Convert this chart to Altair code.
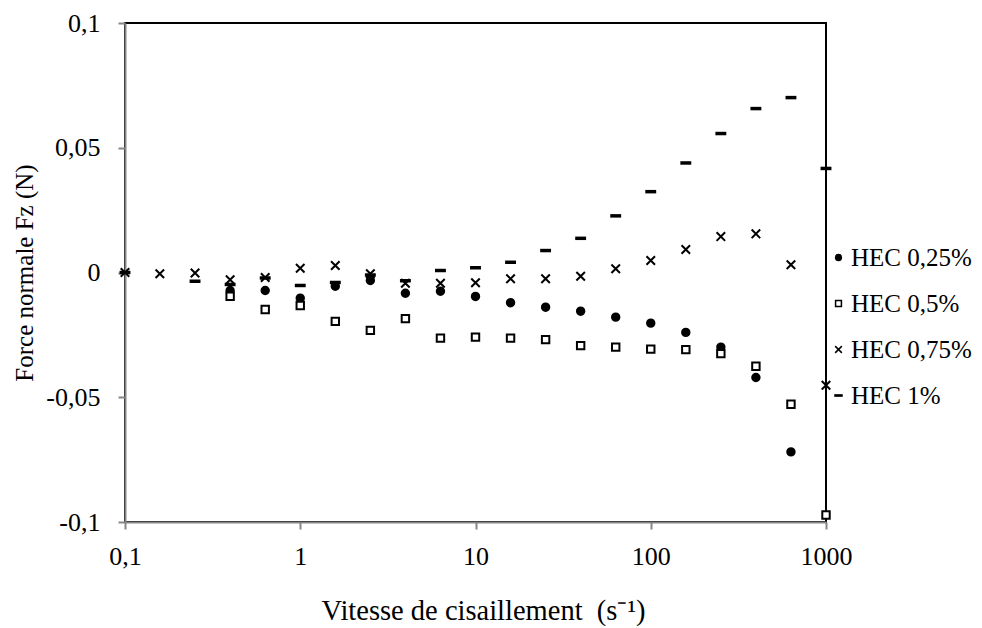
import altair as alt
import pandas as pd

# Shear rates (s-1)
shear = [0.1, 0.158, 0.251, 0.398, 0.631, 1, 1.585, 2.512, 3.981, 6.31, 10,
         15.85, 25.12, 39.81, 63.1, 100, 158.5, 251.2, 398.1, 631, 1000]

series_names = ["HEC 0,25%", "HEC 0,5%", "HEC 0,75%", "HEC 1%"]

hec_025 = [None, None, None, -0.0072, -0.0072, -0.0103, -0.0055, -0.0032, -0.0083,
           -0.0075, -0.0096, -0.0121, -0.0139, -0.0155, -0.0179, -0.0203, -0.0240,
           -0.0299, -0.0421, -0.0719, None]
hec_05 = [None, None, None, -0.0095, -0.0148, -0.0132, -0.0196, -0.0232, -0.0185,
          -0.0263, -0.0259, -0.0263, -0.0269, -0.0293, -0.0299, -0.0307, -0.0309,
          -0.0325, -0.0376, -0.0528, -0.0972]
hec_075 = [0.0, -0.0005, -0.0002, -0.0029, -0.0020, 0.0017, 0.0028, -0.0005, -0.0043,
           -0.0043, -0.0041, -0.0025, -0.0025, -0.0015, 0.0015, 0.0048, 0.0092,
           0.0144, 0.0155, 0.0031, -0.0452]
hec_1 = [0.0, None, -0.0035, -0.0048, -0.0022, -0.0052, -0.0040, -0.0010, -0.0033,
         0.0008, 0.0019, 0.0041, 0.0088, 0.0137, 0.0227, 0.0324, 0.0439, 0.0557,
         0.0657, 0.0701, 0.0417]

y_ticks = [-0.1, -0.05, 0, 0.05, 0.1]
x_ticks = [0.1, 1, 10, 100, 1000]

rows = []
for name, vals in zip(series_names, [hec_025, hec_05, hec_075, hec_1]):
    for xv, yv in zip(shear, vals):
        if yv is not None:
            rows.append({"series": name, "rate": xv, "fz": yv})
df = pd.DataFrame(rows)

FONT = "Liberation Serif"
GRAY = "#868686"

shape_range = [
    "circle",
    "square",
    "M-1.15,-1.15L1.15,1.15M-1.15,1.15L1.15,-1.15",
    "M-1.2,-0.2L1.2,-0.2L1.2,0.2L-1.2,0.2Z",
]
fill_range = ["black", "white", "black", "black"]
stroke_range = ["black", "black", "black", "black"]

legend = alt.Legend(
    title=None, orient="none", legendX=701, legendY=222,
    labelFont=FONT, labelFontSize=25, labelColor="black", labelOffset=0,
    symbolSize=34, symbolStrokeColor="black", symbolStrokeWidth=1.5,
    rowPadding=20, padding=0,
)

chart = alt.Chart(df).mark_point(
    size=55, strokeWidth=2, opacity=1, filled=False
).encode(
    x=alt.X("rate:Q",
            scale=alt.Scale(type="log", domain=[0.1, 1000], nice=False),
            axis=alt.Axis(values=x_ticks, grid=False,
                          title="Vitesse de cisaillement\u00a0\u00a0(s⁻¹)",
                          labelExpr="replace(format(datum.value, ''), '.', ',')",
                          labelFont=FONT, labelFontSize=26, labelColor="black",
                          labelPadding=14, tickSize=7, tickColor=GRAY, tickWidth=2,
                          domainColor=GRAY, domainWidth=2, labelFlush=False,
                          titleFont=FONT, titleFontSize=28.5, titleFontWeight="normal",
                          titleColor="black", titleX=358, titleY=97,
                          titleBaseline="alphabetic")),
    y=alt.Y("fz:Q",
            scale=alt.Scale(domain=[-0.1, 0.1], nice=False),
            axis=alt.Axis(values=y_ticks, grid=False, title="Force normale Fz (N)",
                          labelExpr="(datum.value < 0 ? '-' : '') + replace(format(abs(datum.value), ''), '.', ',')",
                          labelFont=FONT, labelFontSize=26, labelColor="black",
                          labelPadding=18, tickSize=7, tickColor=GRAY, tickWidth=2,
                          domainColor=GRAY, domainWidth=2,
                          titleFont=FONT, titleFontSize=25, titleFontWeight="normal",
                          titleColor="black", titlePadding=8)),
    shape=alt.Shape("series:N", scale=alt.Scale(domain=series_names, range=shape_range),
                    legend=legend),
    fill=alt.Fill("series:N", scale=alt.Scale(domain=series_names, range=fill_range),
                  legend=legend),
    stroke=alt.Stroke("series:N", scale=alt.Scale(domain=series_names, range=stroke_range),
                      legend=legend),
    order=alt.Order("series:N"),
).properties(
    width=701, height=499,
    autosize=alt.AutoSizeParams(type="none"),
    padding={"left": 117, "top": 15, "right": 148, "bottom": 104},
    background="white",
).configure_view(
    stroke="black", strokeWidth=2
)

chart.save("out.html", embed_options={"renderer": "svg", "actions": False})
